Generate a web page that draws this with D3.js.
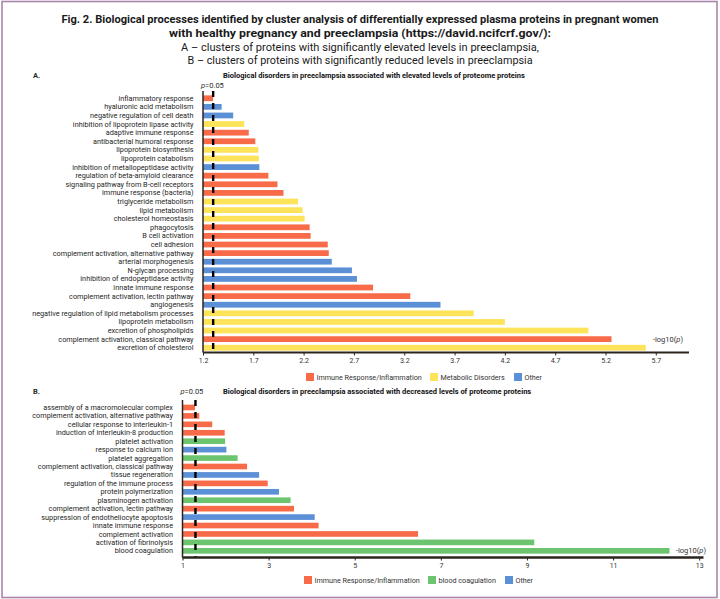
<!DOCTYPE html>
<html><head><meta charset="utf-8">
<script src="https://cdn.jsdelivr.net/npm/d3@7"></script>
<style>body{margin:0;background:#fff}svg{display:block}text{font-family:Roboto,"Liberation Sans",sans-serif;fill:#2a2a2a}</style>
</head><body>
<script>
// ---------- DATA ----------
const categoriesA = ["inflammatory response","hyaluronic acid metabolism","negative regulation of cell death","inhibition of lipoprotein lipase activity","adaptive immune response","antibacterial humoral response","lipoprotein biosynthesis","lipoprotein catabolism","inhibition of metallopeptidase activity","regulation of beta-amyloid clearance","signaling pathway from B-cell receptors","immune response (bacteria)","triglyceride metabolism","lipid metabolism","cholesterol homeostasis","phagocytosis","B cell activation","cell adhesion","complement activation, alternative pathway","arterial morphogenesis","N-glycan processing","inhibition of endopeptidase activity","innate immune response","complement activation, lectin pathway","angiogenesis","negative regulation of lipid metabolism processes","lipoprotein metabolism","excretion of phospholipids","complement activation, classical pathway","excretion of cholesterol"];
const valuesA = [1.30,1.385,1.50,1.61,1.655,1.72,1.75,1.755,1.76,1.85,1.94,2.00,2.145,2.19,2.21,2.26,2.27,2.44,2.45,2.48,2.68,2.73,2.89,3.26,3.56,3.89,4.20,5.03,5.26,5.60];
const groupsA = ["Immune","Other","Other","Metabolic","Immune","Immune","Metabolic","Metabolic","Other","Immune","Immune","Immune","Metabolic","Metabolic","Metabolic","Immune","Immune","Immune","Immune","Other","Other","Other","Immune","Immune","Other","Metabolic","Metabolic","Metabolic","Immune","Metabolic"];
const ticksA = [1.2,1.7,2.2,2.7,3.2,3.7,4.2,4.7,5.2,5.7];

const categoriesB = ["assembly of a macromolecular complex","complement activation, alternative pathway","cellular response to interleukin-1","induction of interleukin-8 production","platelet activation","response to calcium ion","platelet aggregation","complement activation, classical pathway","tissue regeneration","regulation of the immune process","protein polymerization","plasminogen activation","complement activation, lectin pathway","suppression of endotheliocyte apoptosis","innate immune response","complement activation","activation of fibrinolysis","blood coagulation"];
const valuesB = [1.29,1.39,1.69,1.98,1.99,2.02,2.28,2.50,2.78,2.98,3.24,3.51,3.59,4.07,4.16,6.47,9.17,12.31];
const groupsB = ["Immune","Immune","Immune","Immune","Coag","Other","Coag","Immune","Other","Immune","Other","Coag","Immune","Other","Immune","Immune","Coag","Coag"];
const ticksB = [1,3,5,7,9,11,13];

const legendA = [["Immune","Immune Response/Inflammation"],["Metabolic","Metabolic Disorders"],["Other","Other"]];
const legendB = [["Immune","Immune Response/Inflammation"],["Coag","blood coagulation"],["Other","Other"]];
const threshold = -Math.log10(0.05);

const colors = {Immune:"#f76b48", Metabolic:"#fde35a", Other:"#5b8fd6", Coag:"#6cc46f"};

// ---------- DRAW ----------
const W=720,H=599;
const svg=d3.select("body").append("svg").attr("width",W).attr("height",H);
svg.append("rect").attr("x",2).attr("y",1.5).attr("width",715).attr("height",596).attr("fill","none").attr("stroke","#a985ab").attr("stroke-width",1.6);

const titleLines=[
 {t:"Fig. 2. Biological processes identified by cluster analysis of differentially expressed plasma proteins in pregnant women",y:22.5,b:700,w:597},
 {t:"with healthy pregnancy and preeclampsia (https://david.ncifcrf.gov/):",y:36.5,b:700,w:382},
 {t:"A – clusters of proteins with significantly elevated levels in preeclampsia,",y:50.5,b:400,w:358},
 {t:"B – clusters of proteins with significantly reduced levels in preeclampsia",y:63.5,b:400,w:345}];
titleLines.forEach(l=>{
  svg.append("text").attr("x",360).attr("y",l.y).attr("text-anchor","middle")
   .style("font-size","11px").style("font-weight",l.b).style("fill","#1a1a1a")
   .attr("textLength",l.w).attr("lengthAdjust","spacingAndGlyphs").text(l.t);
});

function panel(o){
  const x=d3.scaleLinear().domain(o.domain).range(o.xr);
  const y=d3.scaleBand().domain(o.cats).range(o.yr).paddingInner(0.33).paddingOuter(0.16);
  const g=svg.append("g");
  g.append("text").attr("x",33).attr("y",o.titleY).style("font-size","7.5px").style("font-weight",700).text(o.letter);
  g.append("text").attr("x",223).attr("y",o.titleY).style("font-size","7.5px").style("font-weight",700).style("fill","#111").text(o.title);
  const pl=g.append("text").attr("x",x(o.domain[0])-2).attr("y",o.pY).style("font-size","7.5px");
  pl.append("tspan").style("font-style","italic").text("p");
  pl.append("tspan").text("=0.05");
  g.selectAll("rect.bar").data(o.cats).join("rect").attr("class","bar")
   .attr("x",x(o.domain[0])).attr("y",d=>y(d))
   .attr("width",(d,i)=>x(o.vals[i])-x(o.domain[0])).attr("height",y.bandwidth())
   .attr("fill",(d,i)=>colors[o.groups[i]]);
  g.selectAll("text.lab").data(o.cats).join("text").attr("class","lab")
   .attr("x",x(o.domain[0])-o.labGap).attr("y",d=>y(d)+y.bandwidth()/2).attr("dy","0.35em")
   .attr("text-anchor","end").style("font-size","7.3px").style("fill","#262626").text(d=>d);
  g.append("line").attr("x1",x(o.domain[0])).attr("x2",x(o.domain[0]))
   .attr("y1",o.yTop).attr("y2",o.axisY).attr("stroke","#2b241e").attr("stroke-width",1.5);
  g.append("line").attr("x1",x(threshold)).attr("x2",x(threshold))
   .attr("y1",o.yTop).attr("y2",o.axisY).attr("stroke","#000").attr("stroke-width",2.4)
   .attr("stroke-dasharray","6,6");
  const ax=g.append("g").attr("transform",`translate(0,${o.axisY})`)
   .call(d3.axisBottom(x).tickValues(o.ticks).tickSize(3).tickPadding(3).tickFormat(d=>String(d)));
  ax.select(".domain").attr("stroke","#2b241e").attr("stroke-width",o.axisW).attr("d",`M${o.xr[0]},0H${o.xr[1]}`);
  ax.selectAll(".tick line").attr("stroke","#2b241e");
  ax.selectAll(".tick text").style("font-size","7px").style("fill","#333").style("font-family","Roboto, sans-serif");
  const lp=g.append("text").attr("x",o.logX).attr("y",o.logY).attr("text-anchor","end").style("font-size","7.5px").style("fill","#333");
  lp.append("tspan").text("-log10(");
  lp.append("tspan").style("font-style","italic").text("p");
  lp.append("tspan").text(")");
  o.legend.forEach((L,i)=>{
    g.append("rect").attr("x",o.legX[i]).attr("y",o.legY-4).attr("width",8).attr("height",8).attr("fill",colors[L[0]]);
    g.append("text").attr("x",o.legX[i]+10.5).attr("y",o.legY).attr("dy","0.35em").style("font-size","7.2px").style("fill","#333").text(L[1]);
  });
}

panel({cats:categoriesA,vals:valuesA,groups:groupsA,ticks:ticksA,domain:[1.2,6.03],xr:[203,689],yr:[94,352],
  letter:"A.",title:"Biological disorders in preeclampsia associated with elevated levels of proteome proteins",
  titleY:78,pY:88,yTop:91,axisY:352.5,axisW:2,labGap:9.5,logX:683,logY:342,legend:legendA,legX:[306,430,514],legY:377});
panel({cats:categoriesB,vals:valuesB,groups:groupsB,ticks:ticksB,domain:[1,13.1],xr:[182.5,703.5],yr:[403.3,555],
  letter:"B.",title:"Biological disorders in preeclampsia associated with decreased levels of proteome proteins",
  titleY:394,pY:394,yTop:400,axisY:557.5,axisW:2.6,labGap:9.5,logX:706,logY:552.5,legend:legendB,legX:[304,428,505],legY:580});
</script>
</body></html>
